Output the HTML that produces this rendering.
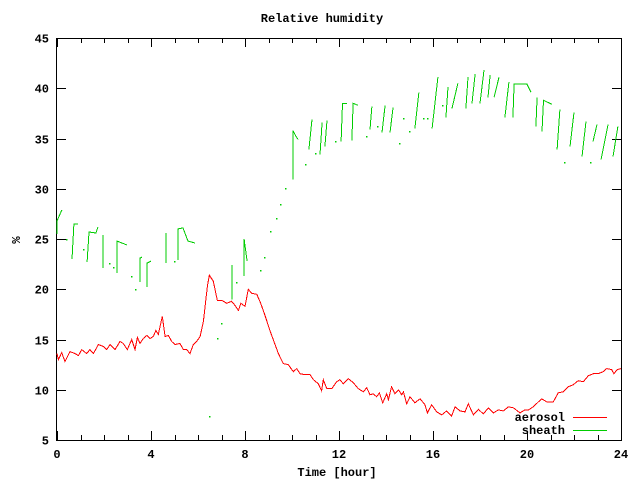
<!DOCTYPE html>
<html><head><meta charset="utf-8"><style>
body{margin:0;background:#fff}
svg{display:block}
text{font-family:"Liberation Mono",monospace;font-size:12px;font-weight:bold;fill:#000}
</style></head><body>
<svg id="chart" width="640" height="480">
<text x="322" y="22" text-anchor="middle">Relative humidity</text>
<text x="337" y="476" text-anchor="middle">Time [hour]</text>
<text x="17" y="243" text-anchor="middle" transform="rotate(-90 17 240)">%</text>
<g id="axes"></g>
<g id="series"></g>
<g id="legend">
<text x="565" y="421" text-anchor="end">aerosol</text>
<line x1="573" y1="417.5" x2="607" y2="417.5" stroke="#f00"/>
<text x="565" y="434" text-anchor="end">sheath</text>
<line x1="573" y1="430.5" x2="607" y2="430.5" stroke="#0c0"/>
</g>
</svg>
<script>
const xTicks=[0,4,8,12,16,20,24];
const yTicks=[5,10,15,20,25,30,35,40,45];
const aerosolT=[0,0.06,0.2,0.34,0.55,0.77,0.91,1.05,1.26,1.4,1.55,1.76,1.97,2.11,2.26,2.47,2.68,2.82,2.99,3.18,3.32,3.42,3.53,3.67,3.82,3.96,4.1,4.21,4.31,4.48,4.6,4.74,4.88,5.02,5.23,5.38,5.52,5.66,5.8,5.94,6.09,6.23,6.33,6.4,6.48,6.65,6.82,7.01,7.22,7.43,7.57,7.72,7.82,8.0,8.14,8.28,8.5,8.67,8.85,9.06,9.2,9.42,9.63,9.84,10.06,10.2,10.34,10.55,10.77,10.91,11.12,11.26,11.33,11.48,11.69,11.9,12.04,12.18,12.4,12.61,12.82,13.04,13.18,13.32,13.46,13.6,13.72,13.86,14.03,14.1,14.24,14.38,14.53,14.67,14.74,14.88,15.02,15.23,15.45,15.66,15.76,15.94,16.16,16.37,16.58,16.79,16.94,17.15,17.36,17.5,17.72,17.93,18.14,18.36,18.57,18.78,18.99,19.21,19.42,19.7,19.91,20.06,20.27,20.62,20.84,21.12,21.33,21.55,21.76,21.97,22.18,22.4,22.61,22.82,23.03,23.24,23.39,23.6,23.7,23.84,24];
const aerosolV=[13.6,13.0,13.7,12.8,13.8,13.6,13.4,14.0,13.6,14.0,13.6,14.5,14.3,14.0,14.5,14.0,14.8,14.6,14.0,15.0,14.0,15.2,14.6,15.1,15.4,15.1,15.3,15.9,15.5,17.3,15.3,15.4,14.8,14.5,14.6,14.0,14.0,13.6,14.5,14.8,15.3,16.8,18.9,20.3,21.4,20.8,18.9,18.9,18.6,18.8,18.4,17.9,18.6,18.3,20.0,19.6,19.5,18.6,17.4,15.9,15.0,13.6,12.6,12.5,11.8,12.1,11.6,11.5,11.5,11.0,10.6,9.9,11.0,10.1,10.1,10.8,11.0,10.6,11.1,10.7,10.1,9.8,10.2,9.5,9.6,9.3,9.7,8.7,9.6,9.0,10.3,9.6,10.0,9.5,9.8,8.6,9.3,8.7,9.1,8.5,7.7,8.5,7.8,7.5,7.9,7.4,8.3,7.9,7.8,8.6,7.5,8.05,7.6,8.2,7.7,8.0,7.9,8.3,8.2,7.7,8.0,8.0,8.3,9.1,8.8,8.8,9.7,9.8,10.3,10.5,10.9,10.8,11.4,11.6,11.6,11.8,12.1,12.0,11.6,12.0,12.1];
// sheath: null separates segments; single-point segments are dots
const sheathT=[0,0,0.21,null,0.38,null,0.64,0.72,0.89,null,1.11,null,1.28,1.36,1.66,1.74,null,1.96,1.96,null,2.21,null,2.38,null,2.55,2.55,2.98,null,3.15,null,3.32,null,3.53,3.53,3.62,null,3.83,3.83,4.0,null,4.64,4.64,null,4.98,null,5.15,5.15,5.36,5.57,5.87,null,6.47,null,6.81,null,6.98,null,7.45,7.45,null,7.62,null,7.96,7.96,8.09,null,8.64,null,8.81,null,9.06,null,9.32,null,9.49,null,9.7,null,10.04,10.04,10.17,10.26,null,10.55,null,10.72,10.85,null,10.98,null,11.19,11.28,null,11.4,11.49,null,11.83,null,12.09,12.15,12.34,null,12.55,12.6,12.81,null,13.15,null,13.32,13.4,null,13.62,null,13.83,13.96,null,14.17,14.3,null,14.55,null,14.72,null,14.98,null,15.23,15.4,null,15.57,null,15.74,null,15.96,16.21,null,16.38,null,16.55,16.64,null,16.81,17.06,null,17.4,17.49,null,17.66,17.79,null,18.0,18.17,null,18.34,18.43,null,18.6,18.81,null,19.06,19.23,null,19.4,19.45,20.0,20.17,null,20.38,20.43,null,20.64,20.7,21.06,null,21.28,21.4,null,21.57,null,21.83,22.0,null,22.34,22.51,null,22.68,null,22.81,22.98,null,23.15,23.45,null,23.66,23.87];
const sheathV=[25.5,26.8,27.9,null,25.0,null,23.0,26.5,26.5,null,24.0,null,22.7,25.7,25.6,26.2,null,22.1,25.4,null,22.6,null,22.2,null,21.6,24.8,24.4,null,21.3,null,20.0,null,20.7,23.1,23.2,null,20.2,22.6,22.8,null,22.6,25.6,null,22.8,null,22.9,26.0,26.1,24.8,24.6,null,7.4,null,15.1,null,16.6,null,19.0,22.4,null,20.7,null,21.3,25.0,22.8,null,21.9,null,23.2,null,25.8,null,27.1,null,28.5,null,30.1,null,30.9,35.8,35.2,34.9,null,32.5,null,33.9,36.9,null,33.6,null,33.4,36.6,null,34.2,36.8,null,34.8,null,34.7,38.5,38.5,null,34.8,38.5,38.3,null,35.2,null,35.9,38.2,null,36.2,null,35.6,38.3,null,35.6,38.1,null,34.6,null,37.0,null,35.7,null,36.0,39.6,null,37.0,null,37.0,null,36.0,41.1,null,38.3,null,37.1,40.1,null,38.0,40.5,null,38.0,41.1,null,38.5,41.4,null,38.5,41.8,null,39.1,41.3,null,39.1,41.1,null,37.1,40.6,null,37.1,40.4,40.4,39.6,null,36.2,39.1,null,35.7,38.8,38.4,null,33.9,37.9,null,32.7,null,34.2,37.6,null,33.2,36.7,null,32.7,null,34.7,36.4,null,32.9,36.4,null,33.2,36.2];

const NS='http://www.w3.org/2000/svg';
const L=57,R=621,T=38,B=440,X0=0,X1=24,Y0=5,Y1=45;
function sx(t){return L+(t-X0)/(X1-X0)*(R-L);}
function sy(v){return B-(v-Y0)/(Y1-Y0)*(B-T);}
function mk(tag,attrs,parent){const e=document.createElementNS(NS,tag);for(const k in attrs)e.setAttribute(k,attrs[k]);parent.appendChild(e);return e;}
const axes=document.getElementById('axes');
const frame=mk('rect',{x:L-0.5,y:T+0.5,width:R-L+1,height:B-T,fill:'none',stroke:'#000'},axes);


for(let h=X0;h<=X1;h++){
  const major=h%4===0,len=major?9:5,x=Math.round(sx(h))+0.5;
  const a=mk('line',{x1:x,y1:B,x2:x,y2:B-len,stroke:'#000'},axes);
  
  
  const b=mk('line',{x1:x,y1:T,x2:x,y2:T+len,stroke:'#000'},axes);
  
  
}
xTicks.forEach(v=>{
  const t=mk('text',{x:sx(v),y:B+18,'text-anchor':'middle'},axes);t.textContent=v;
  
  
});
yTicks.forEach(v=>{
  const y=Math.round(sy(v))+0.5;
  const a=mk('line',{x1:L,y1:y,x2:L+9,y2:y,stroke:'#000'},axes);
  
  
  const b=mk('line',{x1:R,y1:y,x2:R-9,y2:y,stroke:'#000'},axes);
  
  
  const t=mk('text',{x:L-8,y:y+4,'text-anchor':'end'},axes);t.textContent=v;
  
  
});
const ser=document.getElementById('series');
let seg=[];
function flush(){
  if(seg.length===1){
    const d=mk('rect',{x:Math.round(sx(seg[0][0])),y:Math.round(sy(seg[0][1])),width:1.5,height:1.5,fill:'#0c0'},ser);
    
    
  }else if(seg.length>1){
    const p=mk('polyline',{points:seg.map(q=>sx(q[0]).toFixed(1)+','+sy(q[1]).toFixed(1)).join(' '),fill:'none',stroke:'#0c0','stroke-width':1,'shape-rendering':'crispEdges'},ser);
    
    
  }
  seg=[];
}
for(let i=0;i<sheathT.length;i++){if(sheathT[i]===null)flush();else seg.push([sheathT[i],sheathV[i]]);}
flush();
const ap=mk('polyline',{points:aerosolT.map((t,i)=>sx(t).toFixed(1)+','+sy(aerosolV[i]).toFixed(1)).join(' '),fill:'none',stroke:'#f00','stroke-width':1,'shape-rendering':'crispEdges'},ser);


</script>
</body></html>
